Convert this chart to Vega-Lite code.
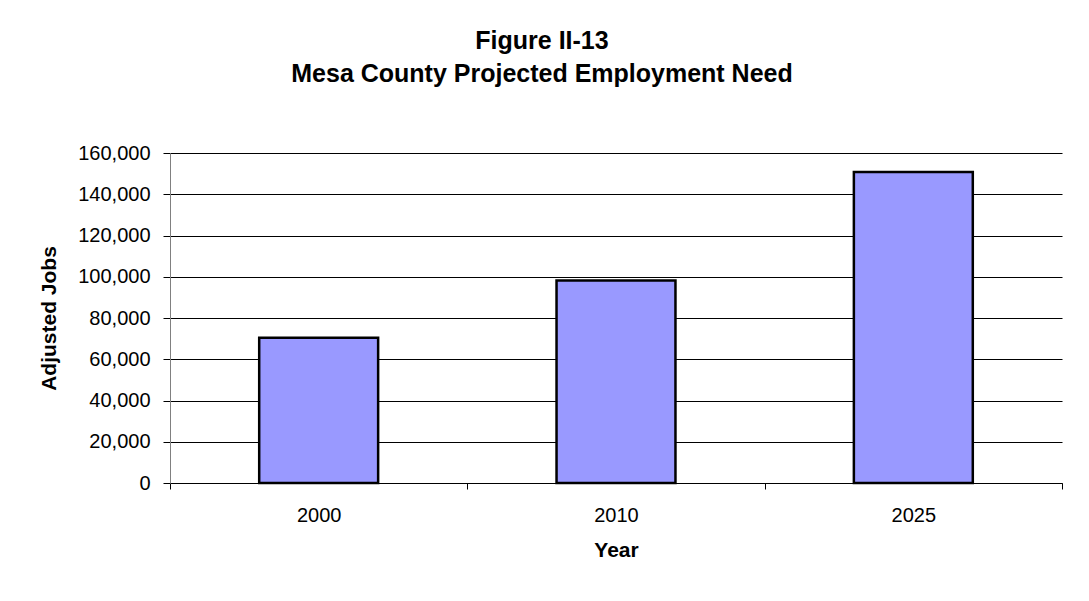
{
  "$schema": "https://vega.github.io/schema/vega-lite/v6.json",
  "width": 892,
  "height": 330,
  "autosize": {"type": "none"},
  "padding": {"left": 170, "top": 153, "right": 27, "bottom": 118},
  "background": "white",
  "title": {
    "text": ["Figure II-13", "Mesa County Projected Employment Need"],
    "anchor": "middle",
    "frame": "group",
    "dx": -74,
    "offset": 56,
    "lineHeight": 33,
    "font": "Liberation Sans, Arial",
    "fontSize": 25,
    "fontWeight": "bold",
    "color": "black"
  },
  "data": {
    "values": [
      {"Year": "2000", "Jobs": 70400},
      {"Year": "2010", "Jobs": 98200},
      {"Year": "2025", "Jobs": 150800}
    ]
  },
  "mark": {"type": "bar", "fill": "#9999FF", "stroke": "black", "strokeWidth": 2.5, "width": {"band": 0.4}},
  "encoding": {
    "x": {
      "field": "Year",
      "type": "nominal",
      "scale": {"paddingInner": 0, "paddingOuter": 0},
      "axis": {
        "title": "Year",
        "labelAngle": 0,
        "tickBand": "extent",
        "tickSize": 6,
        "tickColor": "black",
        "domainColor": "black",
        "labelPadding": 16,
        "titlePadding": 14,
        "grid": false
      }
    },
    "y": {
      "field": "Jobs",
      "type": "quantitative",
      "scale": {"domain": [0, 160000], "nice": false},
      "axis": {
        "title": "Adjusted Jobs",
        "values": [0, 20000, 40000, 60000, 80000, 100000, 120000, 140000, 160000],
        "format": ",d",
        "tickSize": 7,
        "tickColor": "black",
        "domainColor": "#808080",
        "labelPadding": 13,
        "titlePadding": 18,
        "grid": true,
        "gridColor": "black",
        "gridWidth": 1,
        "gridOpacity": 1
      }
    }
  },
  "config": {
    "view": {"stroke": null},
    "axis": {
      "labelFont": "Liberation Sans, Arial",
      "labelFontSize": 20,
      "labelColor": "black",
      "titleFont": "Liberation Sans, Arial",
      "titleFontSize": 21,
      "titleFontWeight": "bold",
      "titleColor": "black",
      "domainWidth": 1,
      "tickWidth": 1
    }
  }
}
